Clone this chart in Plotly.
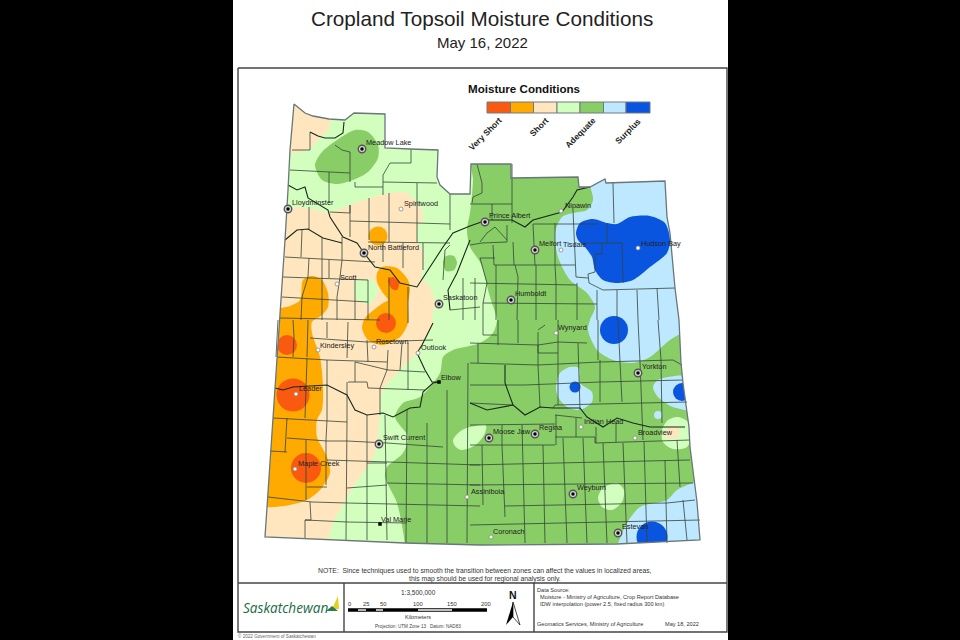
import plotly.graph_objects as go

# ---------- colour classes ----------
CLASS_NAMES = ["Very Short", "Short", "Adequate", "Surplus"]
C_VSHORT, C_SHORT, C_TAN, C_LGREEN, C_GREEN, C_LBLUE, C_BLUE = (
    "#F95A10", "#FFAA00", "#FFE6BE", "#D3FFBE", "#89CD66", "#BEE8FF", "#0A55E0")

# ---------- map outlines (x, y in picture units) ----------
province = [(294,104),(298,107),(305,113),(313,116),(329,119),(345,120),(354,113),(385,114),(385,148),(410,149),
            (438,150),(437,177),(440,185),(450,194),(470,194),(471,164),(511,164),(511,178),(578,177),(579,187),
            (590,187),(605,179),(606,183),(665,181),(667,217),(670,233),(673,263),(675,288),(679,320),(681,363),
            (683,383),(687,410),(689,427),(690,447),(694,477),(697,502),(700,540),(617,544),(480,545),(405,543),
            (265,537),(273,420),(280,320),(285,240),(288,190),(290,150),(294,104)]

tan_nw = [(285,95),(340,100),(331,120),(328,130),(318,140),(308,150),(285,151)]
tan_main = [(255,207),(287,207),(307,208),(330,212),(350,205),(370,198),(390,193),(407,193),(420,207),(423,220),
            (417,227),(418,242),(422,247),(424,263),(422,278),(430,287),(435,303),(432,318),(433,323),(417,353),
            (400,370),(383,390),(380,410),(375,453),(353,487),(333,523),(323,548),(255,548)]
lgreen_pocket = [(355,282),(372,280),(378,290),(376,296),(369,304),(357,300)]
green_main = [(473,155),(725,155),(725,565),(405,565),(405,545),(397,503),(385,477),(387,467),(403,453),(408,437),
              (395,417),(403,403),(420,397),(440,373),(443,357),(453,350),(480,343),(493,333),(497,320),(495,312),
              (490,297),(483,270),(480,262),(470,247),(467,230),(470,213),(472,195),(473,180)]
green_meadow = [(315,165),(322,152),(337,140),(355,130),(368,132),(378,145),(378,158),(368,172),(353,180),(337,184),(322,180)]
green_patch = [(443,262),(446,256),(454,256),(457,263),(454,270),(446,271)]
orange_west = [(262,310),(280,308),(290,306),(300,300),(303,280),(312,276),(322,280),(328,293),(328,307),(322,315),
               (312,322),(312,333),(320,357),(323,387),(322,410),(317,420),(317,437),(327,457),(330,473),(320,490),
               (307,500),(290,505),(273,507),(258,505)]
orange_centre = [(377,273),(382,267),(397,268),(408,280),(410,290),(408,303),(408,323),(400,337),(383,345),(368,340),
                 (362,328),(365,318),(383,303),(388,300),(383,293),(377,282)]
red_centre = [(388,280),(393,277),(399,283),(397,290),(392,289)]
lblue_ne = [(588,165),(593,200),(587,210),(573,213),(562,217),(555,233),(558,257),(570,280),(587,293),(595,307),
            (590,320),(588,330),(597,350),(613,360),(633,363),(650,357),(670,340),(685,332),(715,330),(715,160)]
lblue_mid = [(556,387),(560,373),(570,367),(579,368),(580,383),(592,392),(592,402),(580,410),(567,407),(558,397)]
lblue_east = [(653,387),(658,380),(690,377),(700,410),(673,407),(658,397)]
lblue_se = [(700,482),(693,483),(677,490),(667,500),(640,507),(627,523),(617,546),(612,560),(715,560),(715,500)]
blue_ne = [(576,233),(580,223),(593,219),(607,223),(617,224),(630,217),(650,216),(665,223),(670,240),(667,253),
           (650,267),(633,280),(617,283),(603,280),(595,270),(592,257),(585,247),(578,240)]
lgreen_moosejaw = [(453,440),(462,430),(480,425),(486,425),(485,433),(478,443),(470,448),(461,450),(455,446)]
lgreen_weyburn = [(598,498),(603,488),(617,483),(624,490),(622,502),(612,510),(602,507)]
lgreen_broadview = [(662,430),(668,420),(678,417),(688,422),(692,433),(687,447),(673,449),(663,442)]
tan_broadview = [(663,433),(670,427),(678,427),(678,437),(670,439)]

# circular cells: x, y, diameter
orange_dot = [(378,236,19)]
red_dots = [(386,323,20),(287,345,20),(293,395,33),(306,468,30)]
lblue_dot = [(658,415,8)]
blue_dots = [(614,330,28),(575,387,11),(682,392,18),(652,537,31)]

# ---------- boundaries ----------
rivers = [
 [(288,185),(297,190),(305,187),(308,198),(328,210),(330,217),(343,237),(357,243),(364,253),(375,267),(390,270),(400,283),(417,287),(430,267),(443,247),(453,233),(470,226),(487,220),(512,220),(525,227),(533,220),(562,212),(573,197),(577,190),(590,187)],
 [(285,240),(297,230),(308,229),(323,238),(342,243)],
 [(275,388),(283,390),(293,387),(327,385),(347,395),(355,410),(367,415),(383,413),(393,417),(410,408),(420,407),(423,392),(433,383),(439,382)],
 [(505,365),(505,383),(513,405),(525,415),(540,407),(553,408),(580,408),(587,417),(603,427),(617,418),(633,423),(650,427),(667,427),(685,427)],
 [(433,323),(422,345),(417,353),(425,370),(432,382),(439,382)],
 [(470,403),(487,410),(513,405)],
 [(310,132),(318,136),(325,138),(335,138),(343,133),(344,122)],
 [(470,240),(457,273),(448,290),(450,310)],
]
counties = [
 [(292,150),(310,150),(310,132)],[(335,145),(342,150),(350,152),(350,182)],[(290,170),(328,172),(350,173)],
 [(329,172),(329,203)],[(355,182),(355,187),(383,187),(383,175),(390,163),(411,163),(411,149)],
 [(383,182),(417,183),(437,183)],[(417,183),(417,242)],[(450,194),(450,230)],[(383,187),(383,195)],
 [(309,207),(309,230)],[(330,212),(350,213),(350,205)],[(350,221),(417,223),(450,224)],[(350,205),(350,237)],
 [(369,198),(369,240)],[(389,193),(389,242)],[(368,242),(450,243)],[(423,243),(423,270)],[(403,243),(403,268)],
 [(383,243),(383,262)],[(285,257),(375,262)],[(283,277),(368,280)],[(282,297),(368,302)],[(280,318),(380,320)],
 [(309,258),(308,277),(302,297),(301,320)],[(322,238),(322,320)],[(329,260),(329,278)],
 [(342,237),(342,260),(340,277),(337,297),(337,320)],[(355,280),(355,320)],[(368,280),(368,320)],[(389,277),(389,320)],
 [(408,287),(408,323)],[(302,230),(301,257)],
 [(277,357),(327,360),(387,362)],[(273,418),(317,420),(347,422)],[(287,438),(327,441),(347,441),(387,443),(443,447)],
 [(270,451),(287,452)],[(327,460),(480,465)],[(307,487),(327,487)],[(268,497),(312,502),(347,503)],[(347,488),(387,485)],
 [(367,463),(387,463)],[(387,483),(480,485)],[(305,520),(347,522),(407,523)],[(347,503),(480,506)],
 [(327,360),(327,420),(326,440),(326,485)],[(347,382),(347,420),(346,540)],[(367,415),(367,540)],[(385,415),(387,540)],
 [(407,410),(406,543)],[(427,423),(427,543)],[(447,390),(447,543)],[(468,363),(467,543)],
 [(287,418),(286,438),(285,452)],[(306,440),(306,500)],[(307,358),(305,418)],[(310,502),(311,520),(305,520),(305,538)],
 [(355,362),(355,382)],[(388,350),(387,370),(380,388),(380,415)],[(348,382),(367,382),(368,388),(425,390)],
 [(355,362),(388,370),(425,372)],[(408,343),(408,390)],[(402,343),(400,370)],[(367,340),(368,362)],[(348,322),(347,358)],
 [(327,322),(327,338)],[(310,338),(367,342),(433,340)],[(278,320),(276,357)],[(308,320),(307,357)],[(293,320),(294,337),(293,357)],
 [(470,343),(538,345),(558,342),(587,343)],[(470,363),(538,365),(600,362),(673,360),(682,365)],
 [(470,385),(525,385),(600,382),(683,380)],[(470,403),(513,405)],[(553,408),(555,405),(687,402)],[(470,425),(555,424)],
 [(555,415),(582,418)],[(470,445),(555,445)],[(555,437),(595,437),(595,443),(663,441),(690,440)],
 [(470,465),(665,460),(690,460)],[(470,485),(693,483)],[(505,506),(667,503),(695,500)],[(470,525),(700,520)],
 [(478,343),(478,363)],[(498,320),(498,345)],[(518,320),(518,343)],[(538,332),(538,353),(558,353)],[(538,330),(545,325)],
 [(538,365),(540,407)],[(558,320),(558,405)],[(578,343),(580,410)],[(600,360),(600,402)],[(620,362),(622,402)],
 [(640,362),(642,422),(643,440)],[(661,360),(662,423)],[(638,320),(640,362)],[(618,320),(620,362)],[(598,320),(598,360)],[(658,320),(661,360)],
 [(482,445),(483,505)],[(502,425),(502,445),(505,517)],[(522,425),(525,543)],[(543,445),(545,543)],[(563,438),(567,543)],
 [(583,438),(587,543)],[(603,443),(607,543)],[(623,443),(627,543)],[(644,442),(647,543)],[(665,460),(667,543)],
 [(677,440),(680,487)],[(683,500),(687,540)],[(556,415),(556,445)],[(576,418),(576,437)],[(596,427),(596,443)],[(616,422),(616,442)],
 [(470,204),(512,204)],[(512,164),(512,223)],[(492,204),(492,220)],[(477,164),(482,183),(482,193),(473,197),(472,203)],
 [(533,224),(573,224),(598,224)],[(573,210),(576,277)],[(613,183),(614,223)],[(607,223),(607,243)],[(583,243),(622,243),(623,283)],
 [(602,243),(602,254),(595,254),(595,272),(588,274),(589,283),(603,290)],[(603,290),(675,288)],[(597,290),(597,320)],
 [(617,290),(617,320)],[(637,290),(638,320)],[(657,288),(659,320)],[(470,245),(482,243),(507,242),(507,225)],
 [(480,242),(487,233),(495,227),(507,240)],[(493,245),(494,265)],[(513,242),(514,265)],[(533,224),(535,265)],
 [(555,223),(555,265),(556,283),(556,320)],[(494,265),(575,265)],[(480,258),(495,258)],[(496,265),(496,320)],
 [(515,265),(518,277),(517,320)],[(536,265),(536,320)],[(576,277),(588,278)],[(577,283),(577,320)],[(470,283),(577,285)],
 [(483,303),(597,304)],[(480,258),(487,283),(483,303),(483,335),(497,335)],[(450,245),(445,250),(443,280)],
 [(463,278),(463,320)],[(475,278),(475,320)],[(450,310),(480,307)],[(538,345),(538,365)],
]

# ---------- places: name, marker x, y, label x, y ----------
large_towns = [("Meadow Lake",362,149,366,142),("Lloydminster",288,209,292,202),("North Battleford",364,253,368,247),
               ("Saskatoon",439,304,443,297),("Prince Albert",485,222,489,215),("Melfort",535,250,539,243),
               ("Humboldt",511,300,515,293),("Yorkton",638,373,642,366),("Swift Current",379,444,383,437),
               ("Moose Jaw",489,438,493,431),("Regina",535,434,539,427),("Weyburn",573,494,577,487),("Estevan",618,533,622,526)]
small_towns = [("Spiritwood",401,209,404,203),("Scott",337,284,340,277),("Nipawin",561,211,565,205),("Tisdale",561,250,563,244),
               ("Hudson Bay",638,248,641,243),("Wynyard",556,333,558,327),("Kindersley",318,350,320,345),("Rosetown",374,347,376,341),
               ("Outlook",418,353,421,347),("Leader",296,394,299,388),("Indian Head",581,427,584,421),("Broadview",635,438,638,432),
               ("Maple Creek",295,469,298,463),("Assiniboia",467,497,471,491),("Coronach",491,537,493,531)]
square_towns = [("Elbow",439,382,441,377),("Val Marie",380,524,381,519)]

# ---------- legend / furniture ----------
legend_edges = [487,510.5,533.5,557,580,603.5,626,650]
legend_colors = [C_VSHORT,C_SHORT,C_TAN,C_LGREEN,C_GREEN,C_LBLUE,C_BLUE]
legend_labels = [("Very Short",485,134),("Short",539,127),("Adequate",580,133),("Surplus",628,131)]
scale_ticks = [("0",349),("25",366),("50",383),("100",418),("150",452),("200",486)]
scale_white = [(358,366),(376,383),(418,452)]

fig = go.Figure()

def poly(pts, color, spline=False, line=None, lw=0):
    fig.add_trace(go.Scatter(x=[p[0] for p in pts]+[pts[0][0]], y=[p[1] for p in pts]+[pts[0][1]],
        mode="lines", fill="toself", fillcolor=color, hoverinfo="skip", showlegend=False,
        line=dict(color=line or color, width=lw, shape="spline" if spline else "linear", smoothing=0.8)))

def dots(items, color):
    fig.add_trace(go.Scatter(x=[d[0] for d in items], y=[d[1] for d in items], mode="markers", hoverinfo="skip",
        showlegend=False, marker=dict(color=color, opacity=1, size=[d[2] for d in items], line=dict(width=0))))

def polylines(groups, color, width):
    xs, ys = [], []
    for g in groups:
        xs += [p[0] for p in g]+[None]
        ys += [p[1] for p in g]+[None]
    fig.add_trace(go.Scatter(x=xs, y=ys, mode="lines", hoverinfo="skip", showlegend=False,
                             line=dict(color=color, width=width)))

def note(text, x, y, size=8, anchor="left", color="#1a1a1a", bold=False, angle=0, italic=False, family="Liberation Sans"):
    if bold: text = "<b>%s</b>" % text
    if italic: text = "<i>%s</i>" % text
    fig.add_annotation(x=x, y=y, text=text, showarrow=False, xanchor=anchor, yanchor="middle", textangle=angle,
                       font=dict(size=size, color=color, family=family), xref="x", yref="y", borderpad=0, borderwidth=0)

# page
poly([(233,0),(728,0),(728,640),(233,640)], "#FFFFFF")

# moisture cells
poly(province, C_LGREEN)
poly(tan_nw, C_TAN, True)
poly(tan_main, C_TAN, True)
poly(lgreen_pocket, C_LGREEN, True)
poly(green_main, C_GREEN, True)
poly(green_meadow, C_GREEN, True)
poly(green_patch, C_GREEN, True)
poly(orange_west, C_SHORT, True)
poly(orange_centre, C_SHORT, True)
dots(orange_dot, C_SHORT)
dots(red_dots, C_VSHORT)
poly(red_centre, C_VSHORT, True)
poly(lblue_ne, C_LBLUE, True)
poly(lblue_mid, C_LBLUE, True)
poly(lblue_east, C_LBLUE, True)
poly(lblue_se, C_LBLUE, True)
dots(lblue_dot, C_LBLUE)
poly(blue_ne, C_BLUE, True)
dots(blue_dots, C_BLUE)
poly(lgreen_moosejaw, C_LGREEN, True)
poly(lgreen_weyburn, C_LGREEN, True)
poly(lgreen_broadview, C_LGREEN, True)
poly(tan_broadview, C_TAN, True)

# white surround outside the province (keyhole polygon, outer ring wound the other way)
page_box = [(233,0),(233,640),(728,640),(728,0),(233,0)]
poly(province + page_box, "#FFFFFF")
# black side bands over any smoothing overshoot
poly([(0,0),(233,0),(233,640),(0,640)], "#000000")
poly([(728,0),(960,0),(960,640),(728,640)], "#000000")

# boundaries
polylines(counties, "#33443A", 0.8)
polylines(rivers, "#16281C", 1.1)
polylines([province], "#69767A", 1.3)

# towns
bx = [t[1] for t in large_towns]; by = [t[2] for t in large_towns]
fig.add_trace(go.Scatter(x=bx, y=by, mode="markers", hoverinfo="skip", showlegend=False,
    marker=dict(size=7.5, color="#D8D8D8", line=dict(color="#555555", width=1.4))))
fig.add_trace(go.Scatter(x=bx, y=by, mode="markers", hoverinfo="skip", showlegend=False,
    marker=dict(size=3.5, color="#000000")))
fig.add_trace(go.Scatter(x=[t[1] for t in small_towns], y=[t[2] for t in small_towns], mode="markers", hoverinfo="skip",
    showlegend=False, marker=dict(size=4, color="#FFFFFF", line=dict(color="#888888", width=0.8))))
fig.add_trace(go.Scatter(x=[t[1] for t in square_towns], y=[t[2] for t in square_towns], mode="markers", hoverinfo="skip",
    showlegend=False, marker=dict(size=3.5, symbol="square", color="#000000")))
for t in large_towns + small_towns + square_towns:
    note(t[0], t[3], t[4], size=7.3, color="#202020")

# legend
note("Moisture Conditions", 524, 88, size=11.6, anchor="center", bold=True, color="#111111")
for i, c in enumerate(legend_colors):
    a, b = legend_edges[i], legend_edges[i+1]
    poly([(a,102),(b,102),(b,113),(a,113)], c, line="#6E7B80", lw=1)
for name, x, y in legend_labels:
    note(name, x, y, size=8.5, anchor="center", bold=True, angle=-45, color="#222222")

# frame
polylines([[(238,68),(727,68),(727,632),(238,632),(238,68)], [(238,583),(727,583)], [(344,583),(344,632)], [(534,583),(534,632)]],
          "#444444", 1.4)

# headings
note("Cropland Topsoil Moisture Conditions", 481.5, 18, size=20.7, anchor="center", color="#222222")
note("May 16, 2022", 482, 42, size=15, anchor="center", color="#222222")
note("NOTE:  Since techniques used to smooth the transition between zones can affect the values in localized areas,", 485, 571, size=6.8, anchor="center", color="#333333")
note("this map should be used for regional analysis only.", 485, 579, size=6.8, anchor="center", color="#333333")

# logo
note("Saskatchewan", 243, 607, size=13.6, color="#1B6B45", italic=True, family="Open Sans")
poly([(332,609),(338,596),(339,609)], "#E6D21E")
poly([(326,611),(332,606),(338,611)], "#2F7D4B")

# scale
note("1:3,500,000", 418, 592, size=6.5, anchor="center", color="#333333")
for lab, x in scale_ticks:
    note(lab, x, 604, size=5.8, anchor="center", color="#333333")
polylines([[(348,610),(487,610)]], "#000000", 3.6)
polylines([[(a,610),(b,610)] for a, b in scale_white], "#FFFFFF", 1.4)
note("Kilometers", 418, 617, size=5.5, anchor="center", color="#333333")
note("Projection: UTM Zone 13   Datum: NAD83", 418, 626, size=4.6, anchor="center", color="#444444")

# north arrow
note("N", 513, 595, size=10.5, anchor="center", bold=True, color="#111111")
poly([(513,602),(506,625),(513,617)], "#000000")
poly([(513,602),(520,625),(513,617)], "#FFFFFF", line="#000000", lw=0.7)

# data source
note("Data Source:", 537, 590, size=5.6, color="#333333")
note("Moisture - Ministry of Agriculture, Crop Report Database", 540, 597, size=5.6, color="#333333")
note("IDW interpolation (power 2.5, fixed radius 300 km)", 540, 604, size=5.6, color="#333333")
note("Geomatics Services, Ministry of Agriculture", 537, 624, size=5.6, color="#333333")
note("May 18, 2022", 665, 624, size=5.6, color="#333333")
note("© 2022 Government of Saskatchewan", 238, 636, size=4.6, color="#666666")

fig.update_layout(width=960, height=640, margin=dict(l=0, r=0, t=0, b=0), showlegend=False,
                  plot_bgcolor="#000000", paper_bgcolor="#000000",
                  xaxis=dict(range=[0,960], visible=False, fixedrange=True),
                  yaxis=dict(range=[640,0], visible=False, fixedrange=True))
fig.write_html("out.html", config=dict(displayModeBar=False, staticPlot=True),
               post_script="document.body.style.margin='0';document.body.style.overflow='hidden';")
